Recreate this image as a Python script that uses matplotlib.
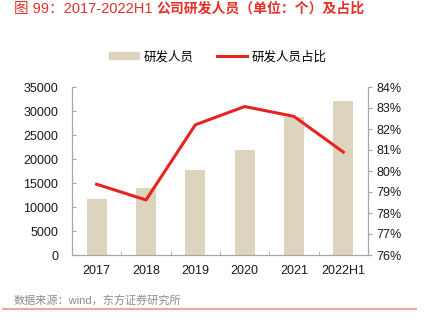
import matplotlib
matplotlib.use("Agg")
import matplotlib.pyplot as plt
from matplotlib.ticker import FuncFormatter, FixedLocator
from matplotlib.lines import Line2D

plt.rcParams['font.family'] = ['Liberation Sans', 'Noto Sans CJK SC', 'DejaVu Sans']

years = ['2017', '2018', '2019', '2020', '2021', '2022H1']
staff = [11600, 13900, 17750, 21850, 28800, 32080]
share = [79.37, 78.62, 82.2, 83.07, 82.6, 80.9]

bar_color = '#DDD4BD'
line_color = '#E5231F'
spine_color = '#A6A6A6'

fig = plt.figure(figsize=(4.27, 3.3), dpi=100)
ax1 = fig.add_axes([72 / 427, 1 - 255 / 330, 296 / 427, 168 / 330])
ax2 = ax1.twinx()

x = list(range(len(years)))
ax1.bar(x, staff, width=0.4, color=bar_color, zorder=1, label='研发人员')
ax2.plot(x, share, color=line_color, lw=2.2, zorder=3, label='研发人员占比')

ax1.set_xlim(-0.5, len(years) - 0.5)
ax1.set_ylim(0, 35000)
ax1.set_yticks(range(0, 35001, 5000))
ax2.set_ylim(76, 84)
ax2.set_yticks(range(76, 85))
ax2.yaxis.set_major_formatter(FuncFormatter(lambda v, p: f'{v:.0f}%'))

ax1.set_xticks(x)
ax1.set_xticklabels(years)
ax1.xaxis.set_minor_locator(FixedLocator([i + 0.5 for i in range(len(years) - 1)]))
ax1.tick_params(axis='x', which='major', length=0, pad=7, labelsize=9, labelcolor='#1a1a1a')
ax1.tick_params(axis='x', which='minor', direction='in', length=3, color=spine_color)
ax1.tick_params(axis='y', direction='in', length=3, color=spine_color, labelsize=9,
                labelcolor='#1a1a1a', pad=10)
ax2.tick_params(axis='y', direction='out', length=3, color=spine_color, labelsize=9,
                labelcolor='#1a1a1a', pad=3)

for ax in (ax1, ax2):
    ax.spines['top'].set_visible(False)
    for s in ('left', 'right', 'bottom'):
        ax.spines[s].set_color(spine_color)
        ax.spines[s].set_linewidth(0.8)
ax1.set_zorder(ax2.get_zorder() - 1)
ax2.patch.set_visible(False)
ax1.patch.set_visible(False)

handles = [plt.Rectangle((0, 0), 1, 1, color=bar_color),
           Line2D([0], [0], color=line_color, lw=2.2)]
fig.legend(handles, ['研发人员', '研发人员占比'], loc='center', bbox_to_anchor=(0.51, 1 - 57 / 330),
           ncol=2, frameon=False, fontsize=9, handlelength=2.4, handleheight=0.5,
           columnspacing=1.8, handletextpad=0.4)

# title: number part regular, Chinese part bold
title_color = '#E5302A'
t1 = fig.text(14 / 427, 1 - 9 / 330, '图 99：2017-2022H1 ', color=title_color,
              fontsize=10.5, va='center', ha='left')
fig.canvas.draw()
bb = t1.get_window_extent()
fig.text(bb.x1 / fig.bbox.width, 1 - 9 / 330, '公司研发人员（单位：个）及占比',
         color=title_color, fontsize=10, fontweight='bold', va='center', ha='left')

fig.text(14 / 427, 1 - 301 / 330, '数据来源：wind，东方证券研究所', color='#8c8c8c',
         fontsize=8, va='center', ha='left')
fig.add_artist(Line2D([3 / 427, 416 / 427], [1 - 309 / 330] * 2, color='#F2A49E', lw=1.5))

fig.savefig('out.png', dpi=100)
